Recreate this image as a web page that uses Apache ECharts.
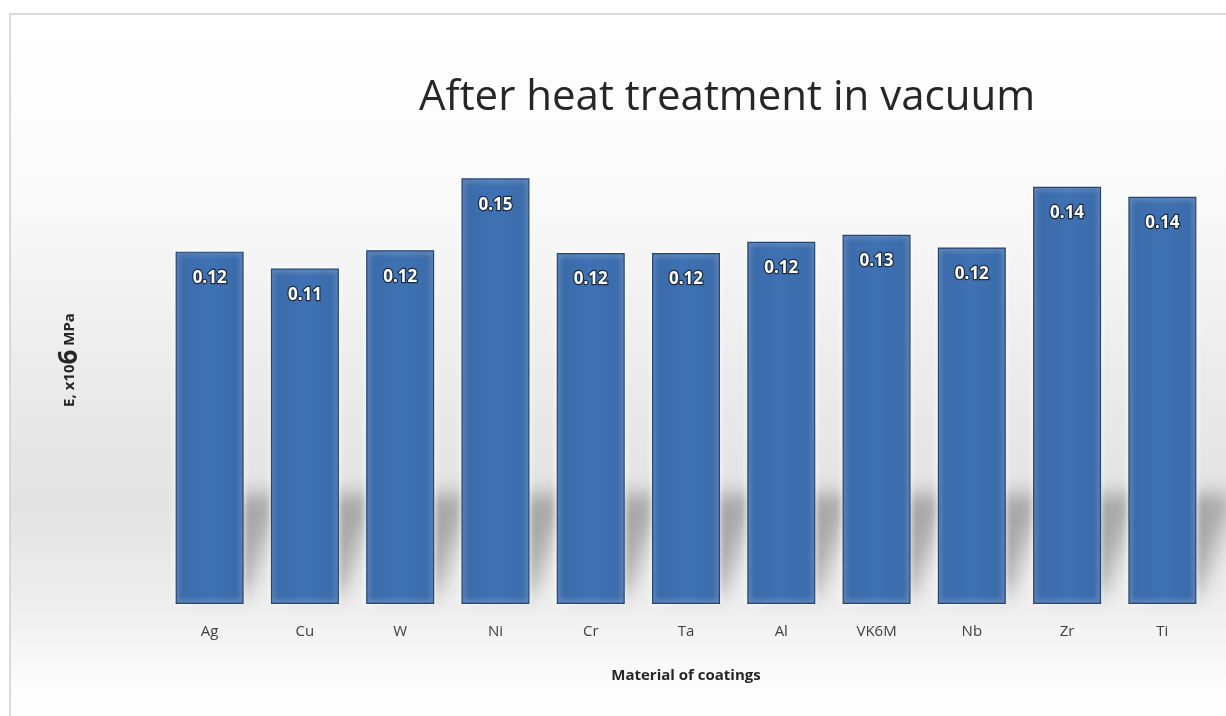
<!DOCTYPE html>
<html><head><meta charset="utf-8">
<script src="https://cdn.jsdelivr.net/npm/echarts@6/dist/echarts.min.js"></script>
<style>html,body{margin:0;padding:0;background:#fff}#c{width:1226px;height:716px}</style>
</head><body><div id="c"></div>
<script>
const categories = ['Ag','Cu','W','Ni','Cr','Ta','Al','VK6M','Nb','Zr','Ti'];
const values = [0.125, 0.119, 0.1255, 0.151, 0.1245, 0.1245, 0.1285, 0.131, 0.1265, 0.148, 0.1445];
const titleText = 'After heat treatment in vacuum';
const xName = 'Material of coatings';

const chart = echarts.init(document.getElementById('c'));
const FONT = '"Open Sans", "DejaVu Sans", sans-serif';
const SHIFT = 1500;

chart.setOption({
  animation: false,
  backgroundColor: '#ffffff',
  graphic: [{
    type: 'rect', z: -10, silent: true,
    shape: { x: 10, y: 14, width: 1230, height: 720 },
    style: {
      fill: new echarts.graphic.LinearGradient(0, 0, 0, 1, [
        { offset: 0, color: '#ffffff' },
        { offset: 0.25, color: '#fafafa' },
        { offset: 0.5, color: '#ebebeb' },
        { offset: 0.68, color: '#e3e3e3' },
        { offset: 0.82, color: '#eeeeee' },
        { offset: 0.93, color: '#fcfcfc' },
        { offset: 1, color: '#ffffff' }
      ]),
      stroke: '#cfcfcf', lineWidth: 1.5
    }
  }, {
    type: 'text', z: 5, silent: true,
    x: 70, y: 360, rotation: Math.PI / 2,
    style: {
      text: '{a|E, x10}{b|6}{a| MPa}', align: 'center', verticalAlign: 'middle',
      rich: {
        a: { fontFamily: FONT, fontSize: 15, fontWeight: 'bold', fill: '#262626' },
        b: { fontFamily: FONT, fontSize: 26, fontWeight: 'bold', fill: '#262626' }
      }
    }
  }],
  title: {
    text: titleText, left: 722, top: 72, textAlign: 'center',
    textStyle: { fontFamily: FONT, fontSize: 42, fontWeight: 'normal', color: '#262626' }
  },
  grid: { left: 162, right: 16, top: 153, bottom: 112 },
  xAxis: {
    type: 'category', data: categories,
    name: xName, nameLocation: 'middle', nameGap: 64,
    nameTextStyle: { fontFamily: FONT, fontSize: 15, fontWeight: 'bold', color: '#262626' },
    axisLine: { show: false }, axisTick: { show: false },
    axisLabel: { fontFamily: FONT, fontSize: 15, color: '#404040', margin: 20 }
  },
  yAxis: {
    type: 'value', min: 0, max: 0.16,
    axisLine: { show: false }, axisTick: { show: false }, axisLabel: { show: false }, splitLine: { show: false }
  },
  series: [{
    type: 'custom', z: 1, silent: true, clip: false,
    data: values,
    renderItem: function (params, api) {
      const base = api.coord([api.value(0), 0]);
      const w = api.size([1, 0])[0] * 0.71;
      const xl = base[0] - w / 2, xr = base[0] + w / 2, y = base[1];
      const pts = [[xl + 14, y - 8], [xr + 2, y - 8], [xr + 38, y - 110], [xl + 50, y - 110]]
        .map(p => [p[0] - SHIFT, p[1]]);
      return {
        type: 'polygon',
        shape: { points: pts },
        style: { fill: '#000', shadowBlur: 20, shadowColor: 'rgba(80,80,80,0.42)', shadowOffsetX: SHIFT, shadowOffsetY: 0 }
      };
    }
  }, {
    type: 'bar', z: 2, data: values, barWidth: 68,
    itemStyle: {
      color: new echarts.graphic.LinearGradient(0, 0, 1, 0, [
        { offset: 0, color: '#3a69a8' },
        { offset: 0.5, color: '#3f72b3' },
        { offset: 1, color: '#3a6aa9' }
      ]),
      borderColor: '#25466f', borderWidth: 1.2,
      shadowColor: 'rgba(255,255,255,0.95)', shadowBlur: 6
    },
    label: {
      show: true, position: 'insideTop', distance: 18,
      fontFamily: FONT, fontSize: 17, fontWeight: 'bold', color: '#ffffff',
      textBorderColor: '#1c2d45', textBorderWidth: 2.5,
      formatter: p => (Math.floor(p.value * 100 + 1e-9) / 100).toFixed(2)
    }
  }]
});
</script></body></html>
